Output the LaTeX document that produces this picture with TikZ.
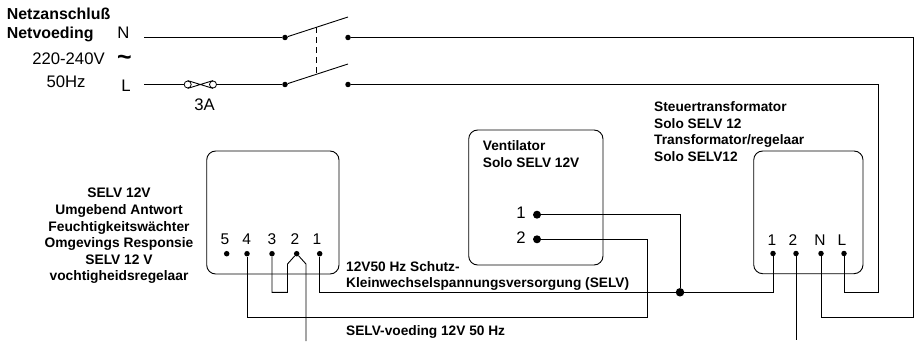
\documentclass[tikz,border=0pt]{standalone}
\usepackage{fontspec}
\setmainfont{Liberation Sans}
\begin{document}
\begin{tikzpicture}[x=1pt,y=-1pt,
  wire/.style={draw=black,line width=0.9pt},
  devbox/.style={draw=black,line width=0.9pt,rounded corners=9pt},
  pin/.style={circle,fill=black,inner sep=0pt,minimum size=5.5pt},
  bigpin/.style={circle,fill=black,inner sep=0pt,minimum size=8pt},
  junc/.style={circle,fill=black,inner sep=0pt,minimum size=8.5pt},
  fusecirc/.style={circle,draw=black,fill=white,line width=0.8pt,inner sep=0pt,minimum size=7pt},
  bt/.style={font=\bfseries\fontsize{13.7}{16.5}\selectfont,inner sep=0pt,align=left,anchor=west},
  btc/.style={font=\bfseries\fontsize{13.8}{16.6}\selectfont,inner sep=0pt,align=center},
  bh/.style={font=\bfseries\fontsize{15.9}{19}\selectfont,inner sep=0pt,align=left,anchor=west},
  rt/.style={font=\fontsize{16.7}{18}\selectfont,inner sep=0pt},
  num/.style={font=\fontsize{15.5}{16}\selectfont,inner sep=0pt},
]
\useasboundingbox (0,0) rectangle (915,342);
% mains
\coordinate (nstart) at (144,37.5);
\coordinate (lstart) at (144,84.5);
\node[pin] (s1) at (285,37.5) {};
\node[pin] (s2) at (348,37.5) {};
\node[pin] (s3) at (285,84.5) {};
\node[pin] (s4) at (348,84.5) {};
\coordinate (b1) at (348,17);
\coordinate (b2) at (348,64);
\coordinate (d1) at (316.7,27.2);
\coordinate (d2) at (316.7,74.2);
\node[fusecirc] (f1) at (187.7,84.5) {};
\node[fusecirc] (f2) at (213,84.5) {};
% boxes
\draw[devbox] (206.7,151) rectangle (339,274);
\draw[devbox] (468.7,130) rectangle (603,265);
\draw[devbox] (753.7,151) rectangle (863,273.7);
% pins
\node[pin] (a5) at (226.7,253.7) {};
\node[pin] (a4) at (247,253.7) {};
\node[pin] (a3) at (272,253.7) {};
\node[pin] (a2) at (296.7,253.7) {};
\node[pin] (a1) at (319.7,253.7) {};
\node[bigpin] (v1) at (537,214.7) {};
\node[bigpin] (v2) at (537,239.3) {};
\node[pin] (t1) at (773,253.5) {};
\node[pin] (t2) at (796,253.5) {};
\node[pin] (tn) at (821,253.5) {};
\node[pin] (tl) at (844,253.5) {};
\node[junc] (j) at (680,292.3) {};
\coordinate (end2) at (306,341);
\coordinate (endt) at (796,340);
% wires
\draw[wire] (nstart) -- (s1) -- (b1);
\draw[wire] (lstart) -- (f1) (f2) -- (s3) -- (b2);
\draw[wire] (f1.north) -- (f2.south) (f1.south) -- (f2.north);
\draw[wire,dashed,dash pattern=on 6pt off 4pt] (d1) -- (d2);
\draw[wire] (s2) -- (913,37.5) -- (913,317) -- (821,317) -- (tn);
\draw[wire] (s4) -- (878,84.5) -- (878,292.3) -- (844,292.3) -- (tl);
\draw[wire] (a1) -- (319.7,292.3) -- (j) -- (773,292.3) -- (t1);
\draw[wire] (v1) -- (680,214.7) -- (j);
\draw[wire] (v2) -- (647,239.3) -- (647,317.7) -- (247,317.7) -- (a4);
\draw[wire] (a3) -- (272,292.3) -- (287.5,292.3) -- (287.5,264) -- (a2) -- (306,264) -- (end2);
\draw[wire] (t2) -- (endt);
% texts
\node[bh] (tnetz) at (6.7,25) {Netzanschluß\\Netvoeding};
\node[rt] (tn1) at (123.5,33) {N};
\node[rt] (tl1) at (126,85.5) {L};
\node[rt] (tv) at (68.5,59) {220-240V};
\node[rt] (thz) at (66,81.5) {50Hz};
\node[font=\bfseries\fontsize{25}{25}\selectfont,inner sep=0pt] (ttilde) at (124.5,60.5) {\char`\~};
\node[rt] (t3a) at (204.5,104.5) {3A};
\node[btc] (tselv) at (119,236) {SELV 12V\\Umgebend Antwort\\Feuchtigkeitswächter\\Omgevings Responsie\\SELV 12 V\\vochtigheidsregelaar};
\node[bt] (tvent) at (482.7,154) {Ventilator\\Solo SELV 12V};
\node[bt] (ttrans) at (654,131.5) {Steuertransformator\\Solo SELV 12\\Transformator/regelaar\\Solo SELV12};
\node[bt] (tprot) at (346,276) {12V50 Hz Schutz-\\Kleinwechselspannungsversorgung (SELV)};
\node[bt] (tfeed) at (346,332) {SELV-voeding 12V 50 Hz};
\node[num] at (225,239) {5};
\node[num] at (246.7,239) {4};
\node[num] at (272,239) {3};
\node[num] at (295,239) {2};
\node[num] at (317,239) {1};
\node[rt] at (521,213) {1};
\node[rt] at (521,238) {2};
\node[num] at (772,240) {1};
\node[num] at (793,240) {2};
\node[num] at (820,240) {N};
\node[num] at (842,240) {L};
\end{tikzpicture}
\end{document}
